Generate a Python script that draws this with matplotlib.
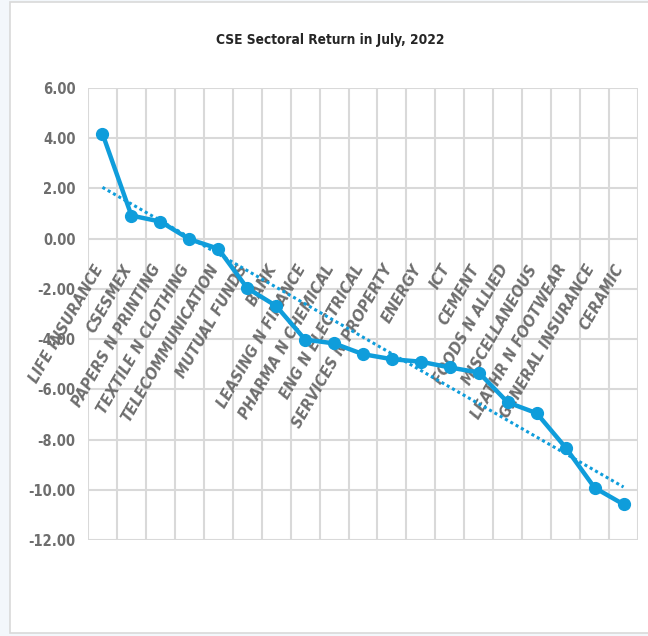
import numpy as np
import matplotlib
matplotlib.use("Agg")
import matplotlib.pyplot as plt
from matplotlib.patches import Rectangle

# sector returns for July 2022
sectors = ["LIFE INSURANCE", "CSESMEX", "PAPERS N PRINTING", "TEXTILE N CLOTHING",
           "TELECOMMUNICATION", "MUTUAL FUNDS", "BANK", "LEASING N FINANCE",
           "PHARMA N CHEMICAL", "ENG N ELECTRICAL", "SERVICES N PROPERTY", "ENERGY",
           "ICT", "CEMENT", "FOODS N ALLIED", "MISCELLANEOUS", "LEATHR N FOOTWEAR",
           "GENERAL INSURANCE", "CERAMIC"]
returns = [4.18, 0.92, 0.68, -0.02, -0.40, -1.97, -2.68, -4.02, -4.17, -4.60,
           -4.80, -4.90, -5.13, -5.33, -6.52, -6.95, -8.32, -9.92, -10.58]
yticks = [6, 4, 2, 0, -2, -4, -6, -8, -10, -12]

plt.rcParams['font.family'] = ['Liberation Sans Narrow', 'DejaVu Sans']
plt.rcParams['font.stretch'] = 'condensed'
blue = '#0f9ddb'
grey = '#6e6e6e'

fig = plt.figure(figsize=(6.48, 6.36), dpi=100, facecolor='#f3f7fb')
frame = Rectangle((10 / 648, 0.004), 1.0, 0.993, transform=fig.transFigure,
                  facecolor='white', edgecolor='#d9d9d9', lw=1.2, zorder=-5)
fig.add_artist(frame)

ax = fig.add_axes([88 / 648, 1 - 540 / 636, 550 / 648, 452 / 636])
ax.set_zorder(2)
ax.set_facecolor('none')
x = np.arange(len(sectors))
ax.plot(x, returns, color=blue, lw=3.2, marker='o', ms=8.5, zorder=3)

# linear trendline
k, b = np.polyfit(x, returns, 1)
ax.plot(x, k * x + b, color=blue, lw=2.2, linestyle=(0, (1, 1)), zorder=2)

ax.set_xlim(-0.5, len(sectors) - 0.5)
ax.set_ylim(-12, 6)
ax.set_yticks(yticks)
ax.set_yticklabels([f"{v:.2f}" for v in yticks], fontsize=10.5, fontweight='bold', color=grey)
ax.set_xticks([])
ax.set_xticks(np.arange(-0.5, len(sectors)), minor=True)
ax.tick_params(which='both', length=0, pad=9)
ax.grid(True, which='major', axis='y', color='#d9d9d9', lw=1.5)
ax.grid(True, which='minor', axis='x', color='#d9d9d9', lw=1.5)
for s in ax.spines.values():
    s.set_visible(False)
ax.set_axisbelow(True)

# category names hang below the zero line, slanted
for i, name in enumerate(sectors):
    ax.annotate(name, xy=(i, 0), xytext=(-3, -27), textcoords='offset pixels',
                rotation=60, rotation_mode='anchor', ha='right', va='center',
                fontsize=11.5, fontweight='bold', fontstyle='italic', color=grey, zorder=1)

fig.text(330 / 648, 1 - 40 / 636, "CSE Sectoral Return in July, 2022", ha='center',
         va='center', fontsize=9.8, fontweight='bold', color='#262626')

fig.savefig('out.png', dpi=100, facecolor=fig.get_facecolor())
